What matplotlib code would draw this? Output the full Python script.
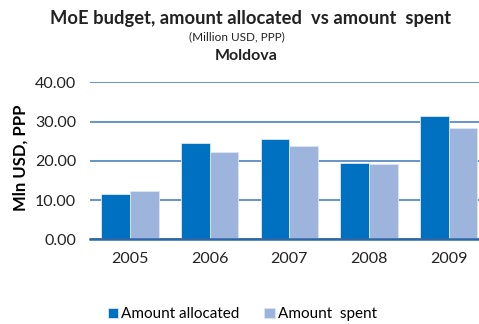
import numpy as np
import matplotlib
matplotlib.use("Agg")
import matplotlib.pyplot as plt

plt.rcParams['font.family'] = ['Lato', 'DejaVu Sans']

years = ["2005", "2006", "2007", "2008", "2009"]
allocated = [11.5, 24.5, 25.6, 19.5, 31.3]
spent = [12.3, 22.2, 23.7, 19.1, 28.3]

c_alloc = "#0070C0"
c_spent = "#9DB5DD"
c_grid = "#3F78B8"

fig = plt.figure(figsize=(4.79, 3.24), dpi=100)
ax = fig.add_axes([0.188, 0.261, 0.832, 0.485])

x = np.arange(len(years))
w = 0.36
ax.bar(x - w/2, allocated, w, color=c_alloc, label="Amount allocated", zorder=3,
       edgecolor="#dde6f3", linewidth=0.6)
ax.bar(x + w/2, spent, w, color=c_spent, label="Amount  spent", zorder=3,
       edgecolor="#dde6f3", linewidth=0.6)

ax.set_xlim(-0.5, 4.5)
ax.set_ylim(0, 40)
ax.set_yticks([0, 10, 20, 30, 40])
ax.set_yticklabels(["%.2f" % v for v in [0, 10, 20, 30, 40]])
ax.set_xticks(x)
ax.set_xticklabels(years)
ax.yaxis.grid(True, color=c_grid, linewidth=1.1)
ax.set_axisbelow(True)
for s in ["top", "right", "left"]:
    ax.spines[s].set_visible(False)
ax.spines["bottom"].set_color("#2E67A8")
ax.spines["bottom"].set_linewidth(1.8)
ax.spines["bottom"].set_zorder(4)
ax.tick_params(axis="both", length=0, labelsize=11.5, colors="#222222")
ax.tick_params(axis="y", pad=10)
ax.tick_params(axis="x", pad=9)

ax.set_ylabel("Mln USD, PPP", fontsize=12, fontweight="bold")
ax.yaxis.set_label_coords(-0.155, 0.52)

fig.text(0.524, 0.944, "MoE budget, amount allocated  vs amount  spent",
         ha="center", va="center", fontsize=13.2, fontweight="bold", color="#222222")
fig.text(0.494, 0.885, "(Million USD, PPP)", ha="center", va="center",
         fontsize=8.5, color="#222222")
fig.text(0.515, 0.828, "Moldova", ha="center", va="center",
         fontsize=11.5, fontweight="bold", color="#222222")

fig.legend(loc="center", bbox_to_anchor=(0.506, 0.03), ncol=2, frameon=False,
           fontsize=11, handlelength=0.7, handleheight=0.7, handletextpad=0.2,
           columnspacing=1.6)

fig.savefig("out.png", dpi=100)
